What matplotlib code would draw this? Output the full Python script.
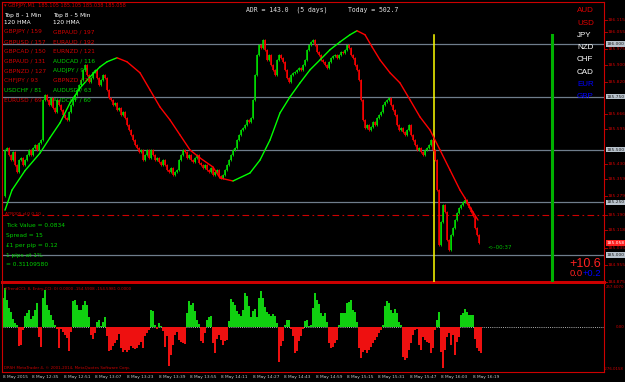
import matplotlib
matplotlib.use('Agg')
import matplotlib.pyplot as plt
from matplotlib.transforms import blended_transform_factory

W, H = 625, 382

# GBPJPY M1 closes, first bar opens at first_open
first_open = 185.280
closes = [
    185.498, 185.507, 185.474, 185.450, 185.488, 185.427, 185.393, 185.450, 185.460, 185.427,
    185.450, 185.474, 185.498, 185.474, 185.507, 185.521, 185.498, 185.531, 185.545, 185.735,
    185.758, 185.735, 185.711, 185.744, 185.697, 185.678, 185.735, 185.711, 185.687, 185.664,
    185.649, 185.640, 185.678, 185.711, 185.735, 185.758, 185.782, 185.806, 185.829, 185.877,
    185.900, 185.853, 185.820, 185.839, 185.867, 185.877, 185.839, 185.806, 185.829, 185.853,
    185.839, 185.782, 185.744, 185.735, 185.711, 185.720, 185.687, 185.697, 185.664, 185.678,
    185.649, 185.616, 185.592, 185.569, 185.545, 185.521, 185.507, 185.488, 185.498, 185.450,
    185.474, 185.498, 185.460, 185.498, 185.474, 185.450, 185.460, 185.441, 185.427, 185.450,
    185.427, 185.403, 185.393, 185.412, 185.379, 185.393, 185.403, 185.450, 185.474, 185.498,
    185.488, 185.460, 185.474, 185.450, 185.441, 185.460, 185.474, 185.436, 185.427, 185.412,
    185.427, 185.403, 185.393, 185.412, 185.379, 185.393, 185.403, 185.374, 185.365, 185.379,
    185.403, 185.427, 185.450, 185.474, 185.498, 185.507, 185.545, 185.569, 185.592, 185.602,
    185.616, 185.640, 185.630, 185.649, 185.735, 185.853, 185.948, 185.995, 185.981, 186.019,
    185.972, 185.924, 185.948, 185.900, 185.877, 185.853, 185.924, 185.948, 185.934, 185.915,
    185.877, 185.839, 185.820, 185.853, 185.863, 185.867, 185.877, 185.886, 185.877, 185.900,
    185.924, 185.972, 185.995, 186.009, 186.019, 185.995, 185.962, 185.948, 185.924, 185.915,
    185.900, 185.886, 185.915, 185.934, 185.943, 185.948, 185.934, 185.948, 185.962, 185.957,
    185.972, 185.995, 185.981, 185.948, 185.934, 185.900, 185.877, 185.829, 185.735, 185.640,
    185.602, 185.616, 185.592, 185.607, 185.630, 185.616, 185.649, 185.664, 185.678, 185.711,
    185.725, 185.735, 185.744, 185.711, 185.687, 185.664, 185.616, 185.592, 185.602, 185.583,
    185.569, 185.592, 185.616, 185.569, 185.545, 185.521, 185.498, 185.507, 185.488, 185.474,
    185.498, 185.507, 185.521, 185.545, 185.498, 185.450, 185.308, 185.047, 185.156, 185.237,
    185.204, 185.071, 185.024, 185.095, 185.128, 185.166, 185.199, 185.223, 185.237, 185.251,
    185.261, 185.242, 185.223, 185.204, 185.185, 185.128, 185.095, 185.057,
]

# 120 HMA, sampled at bar numbers
hma_bar = [0, 3.5, 10, 17.5, 22.5, 27.5, 32.5, 37.5, 42.5, 47.5, 51, 56, 61, 67.5, 72.5,
           77.5, 82.5, 87.5, 92.5, 97.5, 104, 107.5, 114, 122.5, 127.5, 132.5, 137.5, 142.5,
           147.5, 152.5, 157.5, 162.5, 167.5, 172.5, 176, 180, 183.5, 187.5, 192.5, 197.5,
           202.5, 207.5, 212.5, 217.5, 222.5, 227.5, 230, 232.5, 236.5]
hma_val = [185.213, 185.308, 185.400, 185.483, 185.556, 185.626, 185.720, 185.791, 185.844,
           185.891, 185.915, 185.934, 185.915, 185.863, 185.782, 185.701, 185.640, 185.569,
           185.498, 185.460, 185.417, 185.365, 185.351, 185.389, 185.450, 185.545, 185.673,
           185.749, 185.815, 185.877, 185.924, 185.972, 186.009, 186.043, 186.062, 186.043,
           185.986, 185.924, 185.863, 185.815, 185.735, 185.654, 185.592, 185.498, 185.403,
           185.308, 185.270, 185.227, 185.166]

# TrendCCI histogram
cci = [
    186, 250, 175, 122, 94, 51, 26, 15, -124, -113, -21, 68, 90, 111, 51, 73, 107, 154,
    -64, -128, 186, 240, 143, 111, 79, 47, 15, -13, -135, -13, -34, -54, -71, -152, -34,
    169, 175, 143, 111, 111, 143, 165, 143, 64, -49, -77, -39, 30, 47, 9, 30, 64,
    -60, -156, -146, -124, -103, -81, -43, -135, -163, -146, -160, -150, -124, -135, -139,
    -135, -113, -96, -135, -56, -39, -17, 111, 100, 15, -13, 26, 9,
    -28, -128, -60, -253, -178, -113, -49, -34, -81, -96, -103, -109,
    90, 169, 143, 154, 100, 47, 21, -92, -103, -39, 47, 64, 73,
    -103, -167, -77, -49, -81, -113, -92, -81,
    41, 180, 158, 143, 100, 86, 68, 111, 218, 197, 137, 64, 100, 116, 64, 186, 229, 186,
    128, 94, 86, 68, 86, 73, 26, -227, -120, -92, 15, 43, 43,
    -13, -56, -167, -156, -92, -60, -13, 36, 47, 9, 15, 122, 218, 171,
    150, 90, 70, 88, 34, -105, -138, -127, -105, -84, 13,
    88, 88, 88, 153, 163, 174, 110, 99, 34,
    -138, -202, -159, -148, -170, -148, -127, -105, -84, -62, -41, -20, 13,
    135, 170, 157, 110, 88, 114, 88, 34, 15, -191, -213, -202, -148, -105, -52, -20, -10,
    -116, -148, -62, -84, -95, -105, -170, -138, -20, 45, 99,
    -159, -267, -148, -62, -41, -116, -52, -181, -95, -62,
    77, 88, 114, 99, 77, 77, 77, -80, -138, -153, -166,
]

grid_prices = [186.000, 185.750, 185.500, 185.250, 185.000]
axis_prices = [186.115, 186.055, 185.975, 185.900, 185.820, 185.666, 185.595, 185.430,
               185.359, 185.279, 185.190, 185.118, 185.035, 184.955, 184.875]
last_price = 185.058
line_price = 185.190

time_labels = ['8 May 2015', '8 May 12:35', '8 May 12:51', '8 May 13:07', '8 May 13:23',
               '8 May 13:39', '8 May 13:55', '8 May 14:11', '8 May 14:27', '8 May 14:43',
               '8 May 14:59', '8 May 15:15', '8 May 15:31', '8 May 15:47', '8 May 16:03',
               '8 May 16:19']
time_bars = [0, 14.5, 30.5, 46, 62, 78, 93.5, 109, 125, 140.5, 156.5, 172, 187.5, 203.5,
             219, 235]

top1 = [('GBPJPY / 159', 'r'), ('GBPUSD / 157', 'r'), ('GBPCAD / 150', 'r'),
        ('GBPAUD / 131', 'r'), ('GBPNZD / 127', 'r'), ('CHFJPY / 93', 'r'),
        ('USDCHF / 81', 'g'), ('EURUSD / 69', 'r')]
top5 = [('GBPAUD / 197', 'r'), ('EURAUD / 192', 'r'), ('EURNZD / 121', 'r'),
        ('AUDCAD / 116', 'g'), ('AUDJPY / 97', 'g'), ('GBPNZD / 75', 'r'),
        ('AUDUSD / 63', 'g'), ('AUDCHF / 60', 'g')]
currencies = [('AUD', '#e00000'), ('USD', '#e00000'), ('JPY', '#ffffff'), ('NZD', '#ffffff'),
              ('CHF', '#ffffff'), ('CAD', '#ffffff'), ('EUR', '#0000ff'), ('GBP', '#0000ff')]

RED = '#ff0000'
GREEN = '#00e000'
AXRED = '#cc0000'
GRID = '#6f7d8c'


def fx(px):
    return px / W


def fy(py):
    return 1 - py / H


fig = plt.figure(figsize=(W / 100, H / 100), dpi=100, facecolor='black')

# bar j sits at pixel 3 + 2*j
xl = (-0.5, 300.5)

ax = fig.add_axes([fx(2), fy(282), fx(604) - fx(2), fy(2) - fy(282)], facecolor='black')
ax.set_xlim(*xl)
ax.set_ylim(184.873, 186.198)
ax.set_xticks([])
ax.set_yticks([])
for s in ax.spines.values():
    s.set_color(AXRED)
    s.set_linewidth(0.8)
ax.spines['bottom'].set_linewidth(2.2)

for p in grid_prices:
    ax.axhline(p, color=GRID, lw=0.9, zorder=1)
ax.axhline(line_price, color=AXRED, lw=0.8, ls=(0, (6, 3, 1.5, 3)), zorder=1)

# candles
opens = [first_open] + closes[:-1]
for i, (o, c) in enumerate(zip(opens, closes)):
    col = GREEN if c >= o else RED
    lo, hi = min(o, c), max(o, c)
    ax.vlines(i + 1, lo - 0.004, hi + 0.004, color=col, lw=0.6, zorder=4)
    ax.vlines(i + 1, lo, hi, color=col, lw=1.1, zorder=4)

# HMA coloured by direction
hx = [b + 1 for b in hma_bar]
for k in range(len(hx) - 1):
    col = '#00ff00' if hma_val[k + 1] >= hma_val[k] else RED
    ax.plot(hx[k:k + 2], hma_val[k:k + 2], color=col, lw=1.0, zorder=5,
            solid_capstyle='round')

ax.axvline(215.5, ymin=0, ymax=0.882, color='#ffff00', lw=1.1, zorder=3)
ax.axvline(274.5, ymin=0, ymax=0.882, color='#00b000', lw=2.2, zorder=3)

# right price axis
ytr = blended_transform_factory(ax.transAxes, ax.transData)
for p in axis_prices:
    ax.text(1.0 + 4 / 602, p, f'{p:.3f}', transform=ytr, color=AXRED, fontsize=3.2,
            va='center', ha='left', clip_on=False)
    ax.plot([1.0, 1.0 + 2.5 / 602], [p, p], transform=ytr, color=AXRED, lw=0.6,
            clip_on=False)
for p in grid_prices:
    ax.text(1.0 + 3 / 602, p, f'{p:.3f}', transform=ytr, color='#202020', fontsize=3.2,
            va='center', ha='left', clip_on=False,
            bbox=dict(boxstyle='square,pad=0.15', fc='#b8c2cc', ec='none'))
ax.text(1.0 + 3 / 602, last_price, f'{last_price:.3f}', transform=ytr, color='white',
        fontsize=3.2, va='center', ha='left', clip_on=False,
        bbox=dict(boxstyle='square,pad=0.15', fc='#ff2020', ec='none'))

# top-left texts
fig.text(fx(4), fy(5), '\u25be GBPJPY,M1  185.105 185.105 185.038 185.058', color=AXRED,
         fontsize=3.6, va='center')
for col_x, head in [(4, 'Top 8 - 1 Min'), (53, 'Top 8 - 5 Min')]:
    fig.text(fx(col_x), fy(15), head, color='white', fontsize=4.2, va='center')
    fig.text(fx(col_x), fy(22), '120 HMA', color='white', fontsize=4.2, va='center')
for col_x, rows in [(4, top1), (53, top5)]:
    for r, (t, c) in enumerate(rows):
        fig.text(fx(col_x), fy(32 + r * 9.7), t, color='#d00000' if c == 'r' else '#00d000',
                 fontsize=4.2, va='center', zorder=0)

fig.text(fx(246), fy(10), 'ADR = 143.0  (5 days)', color='#e0e0e0', fontsize=4.7,
         family='DejaVu Sans Mono', va='center')
fig.text(fx(348), fy(10), 'Today = 502.7', color='#e0e0e0', fontsize=4.7,
         family='DejaVu Sans Mono', va='center')

for r, (t, c) in enumerate(currencies):
    fig.text(fx(577), fy(11 + r * 12.2), t, color=c, fontsize=5.8, family='Liberation Sans',
             va='center')

fig.text(fx(5), fy(214), 'ATR005 d.0 0.10', color=AXRED, fontsize=3.2, va='center')
green_info = ['Tick Value = 0.0834', 'Spread = 15', '\u00a31 per pip = 0.12', '1 pips at 1%',
              '= 0.31109580']
for r, t in enumerate(green_info):
    fig.text(fx(6), fy(225 + r * 10), t, color='#00d000', fontsize=4.2, va='center')
fig.text(fx(487), fy(247), '<--00:37', color='#00c000', fontsize=4.0, va='center')

fig.text(fx(601), fy(264), '+10.6', color='#ff2020', fontsize=9, ha='right', va='center',
         family='Liberation Sans')
fig.text(fx(583), fy(274), '0.0', color='#ff2020', fontsize=6.8, ha='right', va='center',
         family='Liberation Sans')
fig.text(fx(583), fy(274), '+0.2', color='#0000ff', fontsize=6.8, ha='left', va='center',
         family='Liberation Sans')

# indicator panel
ax2 = fig.add_axes([fx(2), fy(372), fx(604) - fx(2), fy(284) - fy(372)], facecolor='black')
ax2.set_xlim(*xl)
ax2.set_ylim(-290, 277)
ax2.set_xticks([])
ax2.set_yticks([])
for s in ax2.spines.values():
    s.set_color(AXRED)
    s.set_linewidth(0.8)
ax2.spines['top'].set_visible(False)
ax2.axhline(0, color='#b0b0b0', lw=0.7, ls=(0, (1, 1.2)), zorder=1)
hcol = ['#10d010' if v >= 0 else '#ee1010' for v in cci]
ax2.bar(range(len(cci)), cci, width=0.6, color=hcol, zorder=2, linewidth=0,
        antialiased=False)

for py, t in [(287, '257.6070'), (327, '0.00'), (369, '-276.0158')]:
    fig.text(fx(624), fy(py), t, color=AXRED, fontsize=2.8, va='center', ha='right')
fig.text(fx(4), fy(289), '#TrendCCI: 8, Entry-CCI: 0) 0.0000 -154.5908 -154.5981 0.0000',
         color=AXRED, fontsize=2.9, va='center')
fig.text(fx(4), fy(368), 'DRSH MetaTrader 4, \u00a9 2001-2014, MetaQuotes Software Corp.',
         color=AXRED, fontsize=2.9, va='center')

# time axis
xtr = blended_transform_factory(ax2.transData, fig.transFigure)
for b, t in zip(time_bars, time_labels):
    fig.text(b, fy(377), t, transform=xtr, color='#c8c8c8', fontsize=3.1, va='center',
             ha='left')

fig.savefig('out.png', dpi=100, facecolor='black')
